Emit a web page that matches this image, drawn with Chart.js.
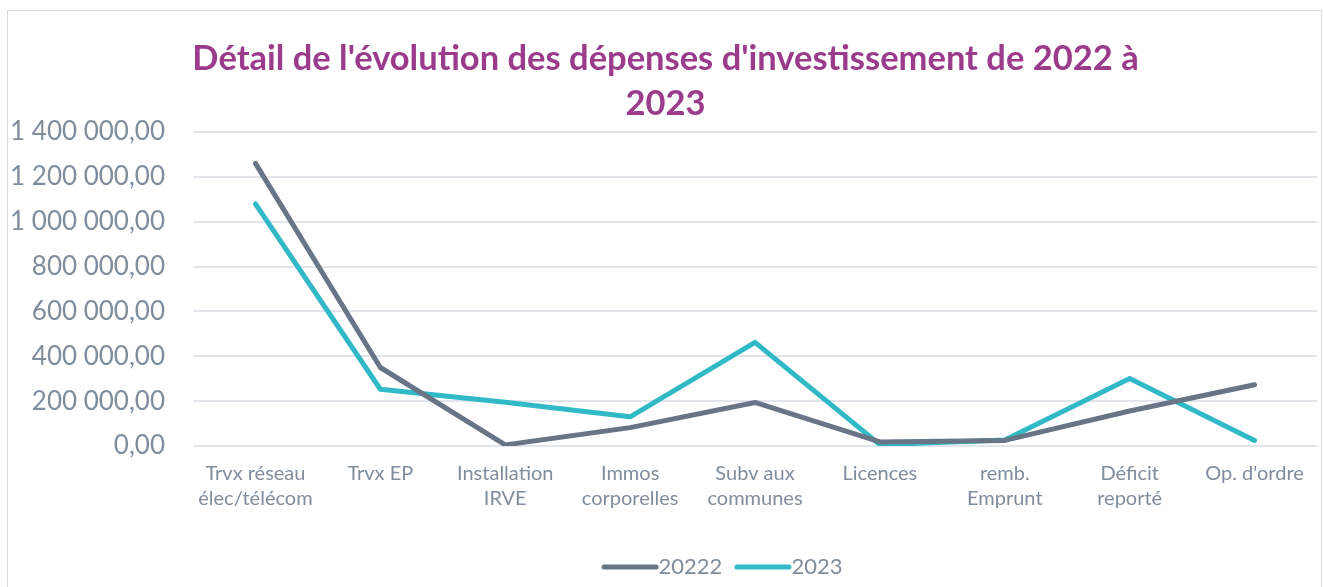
<!DOCTYPE html>
<html>
<head>
<meta charset="utf-8">
<script src="https://cdn.jsdelivr.net/npm/chart.js@4.4.1/dist/chart.umd.min.js"></script>
<style>
  html, body { margin: 0; padding: 0; background: #ffffff; }
  body { width: 1324px; height: 587px; position: relative; overflow: hidden; }
  #frame { position: absolute; left: 7px; top: 10px; right: 2px; bottom: -5px; border: 1.5px solid #d9dcdf; pointer-events: none; }
  canvas { position: absolute; left: 0; top: 0; }
</style>
</head>
<body>
<canvas id="c" width="1324" height="587"></canvas>
<div id="frame"></div>
<script>
const categories = [
  ["Trvx réseau", "élec/télécom"],
  "Trvx EP",
  ["Installation", "IRVE"],
  ["Immos", "corporelles"],
  ["Subv aux", "communes"],
  "Licences",
  ["remb.", "Emprunt"],
  ["Déficit", "reporté"],
  "Op. d'ordre"
];
const series2022 = [1260000, 350000, 5000, 82000, 194000, 18000, 25000, 156000, 273000];
const series2023 = [1080000, 253000, 195000, 130000, 462000, 6000, 27000, 301000, 25000];
const seriesNames = ["20222", "2023"];
const seriesColors = ['#677587', '#31b9c7'];
const titleLines = ["Détail de l'évolution des dépenses d'investissement de 2022 à", "2023"];
const yMin = 0, yMax = 1400000, yStep = 200000;

function fmt(v) {
  const s = Math.round(v).toString().replace(/\B(?=(\d{3})+(?!\d))/g, ' ');
  return s + ',00';
}

// legend swatch: a line image, offset so the line sits just before the text
function legendSwatch(color) {
  const c = document.createElement('canvas');
  c.width = 84; c.height = 8;
  const g = c.getContext('2d');
  g.strokeStyle = color; g.lineWidth = 5; g.lineCap = 'round';
  g.beginPath(); g.moveTo(19, 4); g.lineTo(71, 4); g.stroke();
  return c;
}

const tickColor = '#7f8d9d';
const FONT = 'Lato';

const shiftPlugin = {
  id: 'shiftBoxes',
  afterLayout(chart) {
    const t = chart.titleBlock; if (t) { t.left += 7; t.right += 7; }
    const l = chart.legend; if (l) { l.left += 66; l.right += 66; l.top -= 10; l.bottom -= 10; }
  }
};

new Chart(document.getElementById('c'), {
  type: 'line',
  data: {
    labels: categories,
    datasets: [
      { label: seriesNames[0], data: series2022, borderColor: seriesColors[0], backgroundColor: seriesColors[0],
        borderWidth: 5, pointRadius: 0, pointStyle: legendSwatch(seriesColors[0]), tension: 0, borderCapStyle: 'round', borderJoinStyle: 'round' },
      { label: seriesNames[1], data: series2023, borderColor: seriesColors[1], backgroundColor: seriesColors[1],
        borderWidth: 5, pointRadius: 0, pointStyle: legendSwatch(seriesColors[1]), tension: 0, borderCapStyle: 'round', borderJoinStyle: 'round' }
    ]
  },
  plugins: [shiftPlugin],
  options: {
    responsive: false,
    animation: false,
    layout: { padding: { top: 0, right: 7, bottom: -11, left: 0 } },
    plugins: {
      title: {
        display: true,
        text: titleLines,
        color: '#9b3b8c',
        font: { family: FONT, size: 34.5, weight: 'bold', lineHeight: 45 / 34.5 },
        padding: { top: 36, bottom: 6 }
      },
      legend: {
        position: 'bottom',
        labels: {
          usePointStyle: true,
          pointStyleWidth: 41,
          color: tickColor,
          font: { family: FONT, size: 22 },
          padding: 17
        }
      },
      tooltip: { enabled: false }
    },
    scales: {
      x: {
        offset: true,
        grid: { display: false, drawTicks: false },
        border: { display: false },
        ticks: { color: tickColor, font: { family: FONT, size: 20, lineHeight: 25 / 20 }, padding: 15, maxRotation: 0, autoSkip: false },
        afterFit: (s) => { s.height = 103; }
      },
      y: {
        min: yMin, max: yMax,
        grid: { color: '#e2e5e9', lineWidth: 2, drawTicks: false },
        border: { display: false },
        ticks: { stepSize: yStep, color: tickColor, font: { family: FONT, size: 26 }, padding: 28, callback: (v) => fmt(v) },
        afterFit: (s) => { s.width = 193; }
      }
    }
  }
});
</script>
</body>
</html>
